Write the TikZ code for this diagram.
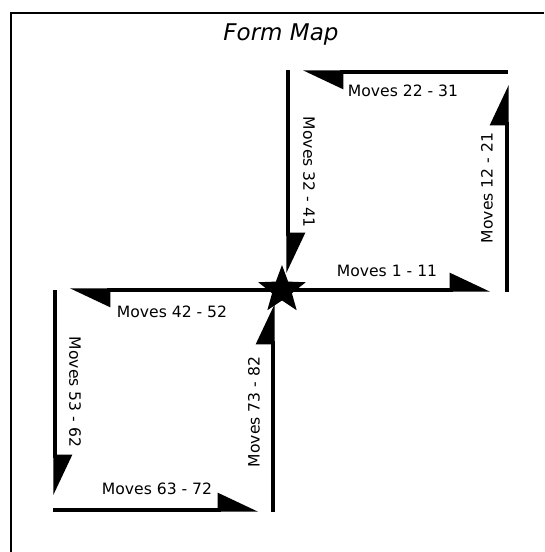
\documentclass[tikz,border=0pt]{standalone}
\usepackage{fontspec}
\setmainfont{DejaVu Sans}
\usetikzlibrary{arrows.meta,shapes.geometric}

\begin{document}
\begin{tikzpicture}[
    x=1pt, y=1pt,
    side/.style={black, line width=3.2pt,
      -{Triangle[left, length=37pt, width=34pt]}},
    frame/.style={black, line width=2pt},
    lbl/.style={font=\fontsize{15.6}{18}\selectfont, inner sep=0pt},
    heading/.style={font=\fontsize{23}{27}\selectfont\itshape, inner sep=0pt},
    hubstar/.style={star, star points=5, star point ratio=2.4, fill=black,
      minimum size=50pt, inner sep=0pt},
  ]
\useasboundingbox (0,0) rectangle (544,-552);

% Page frame; only its left and top edges fall inside the picture.
\draw[frame] (10.5,-552) -- (10.5,-12.5) -- (544,-12.5);
\node[heading] (title) at (281,-35) {Form Map};

% Both loops start and end at the star; every side carries a half
% arrowhead on the inner side, so each loop runs counterclockwise.
\coordinate (hub) at (282,-290);

% Upper loop: moves 1 to 41.
\coordinate (ub1) at (490,-290);
\coordinate (ur0) at (507,-292);
\coordinate (ur1) at (507,-85);
\coordinate (ut0) at (508,-72);
\coordinate (ut1) at (303,-72);
\coordinate (ul0) at (288,-70);
\coordinate (ul1) at (288,-273);
\draw[side] (hub) -- (ub1);
\draw[side] (ur0) -- (ur1);
\draw[side] (ut0) -- (ut1);
\draw[side] (ul0) -- (ul1);
\node[lbl] (m1) at (387,-271) {Moves 1 - 11};
\node[lbl, rotate=90] (m12) at (487,-188) {Moves 12 - 21};
\node[lbl] (m22) at (403,-91) {Moves 22 - 31};
\node[lbl, rotate=-90] (m32) at (309,-172) {Moves 32 - 41};

% Lower loop: moves 42 to 82.
\coordinate (lt1) at (70,-290);
\coordinate (ll0) at (55,-290);
\coordinate (ll1) at (55,-495);
\coordinate (lb0) at (53,-510);
\coordinate (lb1) at (258,-510);
\coordinate (lr0) at (273,-512);
\coordinate (lr1) at (273,-304);
\draw[side] (hub) -- (lt1);
\draw[side] (ll0) -- (ll1);
\draw[side] (lb0) -- (lb1);
\draw[side] (lr0) -- (lr1);
\node[lbl] (m42) at (172,-312) {Moves 42 - 52};
\node[lbl, rotate=-90] (m53) at (75,-392) {Moves 53 - 62};
\node[lbl] (m63) at (157,-489) {Moves 63 - 72};
\node[lbl, rotate=90] (m73) at (254,-412) {Moves 73 - 82};

\node[hubstar] (star) at (hub) {};

\end{tikzpicture}
\end{document}
